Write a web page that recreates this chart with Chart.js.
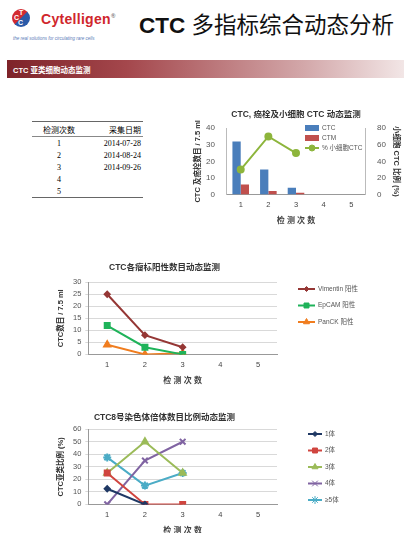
<!DOCTYPE html>
<html>
<head>
<meta charset="utf-8">
<script src="https://cdn.jsdelivr.net/npm/chart.js@4/dist/chart.umd.min.js"></script>
<style>
  body { margin: 0; width: 404px; height: 533px; background: #fff; position: relative; overflow: hidden;
         font-family: "Liberation Sans", "Noto Sans CJK SC", sans-serif; }
  .abs { position: absolute; }
  #logoCircle { left: 12px; top: 9px; width: 18px; height: 18px; border-radius: 50%;
                background: linear-gradient(135deg, #d32a30 0 48%, #2b5aa8 52% 100%); }
  #logoCircle span { position: absolute; color: #fff; font-weight: bold; font-size: 7px; }
  #brand { left: 41px; top: 11px; font-size: 14px; font-weight: bold; color: #d0262c; letter-spacing: 0.3px; }
  #brand sup { font-size: 6px; color: #777; }
  #tagline { left: 13px; top: 36px; font-size: 4.5px; font-style: italic; color: #5a7ab8; }
  #mainTitle { left: 139px; top: 7px; font-size: 22.5px; color: #111; white-space: nowrap; }
  #banner { left: 7px; top: 60px; width: 397px; height: 18px;
            background: linear-gradient(90deg, #7e2329 0%, #a4474c 30%, #d3a8aa 75%, #f2e6e6 100%); }
  #banner span { position: absolute; left: 6px; top: 4px; font-size: 7.5px; font-weight: bold; color: #fff; }
  #sampleTable { left: 32px; top: 121px; width: 111px; border-collapse: collapse;
                 font-family: "Liberation Serif", "Noto Sans CJK SC", serif; font-size: 8px; color: #000; }
  #sampleTable th { font-weight: normal; border-top: 1.5px solid #666; border-bottom: 1px solid #888; padding: 1.5px 2px; }
  #sampleTable td { padding: 1.5px 2px; height: 8px; }
  #sampleTable tr:last-child td { border-bottom: 1.5px solid #666; }
  .c1 { text-align: center; width: 50px; }
  .c2 { text-align: right; }
</style>
</head>
<body>
<div id="logoCircle" class="abs"><span style="left:7px;top:0px">T</span><span style="left:2px;top:5px">C</span><span style="left:6px;top:10px">C</span></div>
<div id="brand" class="abs">Cytelligen<sup>®</sup></div>
<div id="tagline" class="abs">the real solutions for circulating rare cells</div>
<div id="mainTitle" class="abs"><b>CTC</b> 多指标综合动态分析</div>
<div id="banner" class="abs"><span>CTC 亚类细胞动态监测</span></div>
<table id="sampleTable" class="abs"></table>

<div class="abs" style="left:186px;top:110px;width:218px;height:116px"><canvas id="c1"></canvas></div>
<div class="abs" style="left:40px;top:260px;width:360px;height:126px"><canvas id="c2"></canvas></div>
<div class="abs" style="left:40px;top:411px;width:360px;height:125px"><canvas id="c3"></canvas></div>

<script>
// data
const visits = ['1', '2', '3', '4', '5'];
const sampleDates = ['2014-07-28', '2014-08-24', '2014-09-26', '', ''];

const ctcCounts = [32, 15, 4, 0, 0];
const ctmCounts = [6, 2, 1, 0, 0];
const smallCellPct = [30, 70, 50, null, null];

const vimentinPos = [25, 8, 3, null, null];
const epcamPos = [12, 3, 0, null, null];
const panckPos = [4, 0, 0.5, null, null];

const ploidy1 = [12.5, 0, null, null, null];
const ploidy2 = [25, 0, 0, null, null];
const ploidy3 = [25, 50, 25, null, null];
const ploidy4 = [0, 35, 50, null, null];
const ploidy5 = [37.5, 15, 25, null, null];

// table
const table = document.getElementById('sampleTable');
let html = '<tr><th class="c1">检测次数</th><th class="c2">采集日期</th></tr>';
visits.forEach((v, i) => {
    html += '<tr><td class="c1">' + v + '</td><td class="c2">' + sampleDates[i] + '</td></tr>';
});
table.innerHTML = html;

Chart.defaults.font.family = "'Liberation Sans', 'Noto Sans CJK SC', sans-serif";
Chart.defaults.color = '#555';
Chart.defaults.animation = false;

// Excel style legend drawn at a fixed spot
const sideLegend = {
    id: 'sideLegend',
    afterDraw(chart, args, opts) {
        if (!opts || opts.x === undefined) return;
        const ctx = chart.ctx;
        ctx.save();
        ctx.font = opts.font;
        chart.data.datasets.forEach((ds, i) => {
            const x = opts.x, y = opts.y + i * opts.gap, len = opts.len;
            const isBar = (ds.type || chart.config.type) === 'bar';
            if (isBar) {
                ctx.fillStyle = ds.backgroundColor;
                ctx.fillRect(x, y - 3, len, 6);
            } else {
                ctx.strokeStyle = ds.borderColor;
                ctx.lineWidth = ds.borderWidth;
                ctx.beginPath();
                ctx.moveTo(x, y);
                ctx.lineTo(x + len, y);
                ctx.stroke();
                ctx.fillStyle = ds.pointBackgroundColor || ds.borderColor;
                ctx.lineWidth = 1;
                Chart.helpers.drawPoint(ctx, { pointStyle: ds.pointStyle, radius: ds.pointRadius, rotation: 0, borderWidth: 1 }, x + len / 2, y);
            }
            ctx.fillStyle = '#555';
            ctx.textBaseline = 'middle';
            ctx.fillText(ds.label, x + len + 3, y);
        });
        ctx.restore();
    }
};
Chart.register(sideLegend);

const tickFont = { size: 7.5 };
const titleFont = { size: 8.5, weight: 'bold' };
const axisTitleFont = { size: 7.5, weight: 'bold' };

function xScale(pad) {
    return {
        offset: true,
        grid: { display: false, drawTicks: false },
        border: { color: '#999' },
        ticks: { font: tickFont, color: '#444', padding: pad },
        title: { display: true, text: '检 测 次 数', font: { size: 8, weight: 'bold' }, color: '#444', padding: { top: 1, bottom: 0 } }
    };
}

// chart 1: CTC, CTM bars and small cell %
new Chart(document.getElementById('c1'), {
    type: 'bar',
    data: {
        labels: visits,
        datasets: [
            { label: 'CTC', data: ctcCounts, backgroundColor: '#4a7ebb', yAxisID: 'y', order: 2 },
            { label: 'CTM', data: ctmCounts, backgroundColor: '#c0504d', yAxisID: 'y', order: 2 },
            { type: 'line', label: '% 小细胞CTC', data: smallCellPct, borderColor: '#8db53c', backgroundColor: '#8db53c',
              pointBackgroundColor: '#8db53c', borderWidth: 2, pointRadius: 3, pointStyle: 'circle', yAxisID: 'y1', order: 1 }
        ]
    },
    options: {
        responsive: true,
        maintainAspectRatio: false,
        layout: { padding: { left: 2, right: 0, top: 0, bottom: 0 } },
        datasets: { bar: { categoryPercentage: 0.6, barPercentage: 1 } },
        plugins: {
            legend: { display: false },
            tooltip: { enabled: false },
            title: { display: true, text: 'CTC, 癌栓及小细胞 CTC 动态监测', font: titleFont, color: '#333', padding: { top: 0, bottom: 8 } },
            sideLegend: { x: 119, y: 18, gap: 10, len: 14, font: '6.5px "Liberation Sans", "Noto Sans CJK SC"' }
        },
        scales: {
            x: xScale(6),
            y: {
                min: 0, max: 40,
                grid: { display: false },
                border: { color: '#bbb' },
                ticks: { stepSize: 10, font: { size: 8 }, color: '#555', padding: 4 },
                title: { display: true, text: 'CTC 及癌栓数目 / 7.5 ml', font: axisTitleFont, color: '#333', padding: { top: 5, bottom: 0 } }
            },
            y1: {
                position: 'right', min: 0, max: 80,
                grid: { display: false },
                border: { color: '#bbb' },
                ticks: { stepSize: 20, font: { size: 8 }, color: '#555', padding: 4 },
                title: { display: true, text: '小细胞 CTC 比例 (%)', font: axisTitleFont, color: '#333', padding: { top: 3, bottom: 2 } }
            }
        }
    }
});

function lineSet(label, data, color, style, radius) {
    return { label: label, data: data, borderColor: color, backgroundColor: color, pointBackgroundColor: color,
             borderWidth: 2, pointStyle: style, pointRadius: radius, spanGaps: false };
}

function lineOptions(title, yTitle, yMax, step, legend, titlePad) {
    return {
        responsive: true,
        maintainAspectRatio: false,
        layout: { padding: { left: 12, right: 123, top: 0, bottom: 0 } },
        plugins: {
            legend: { display: false },
            tooltip: { enabled: false },
            title: { display: true, text: title, font: titleFont, color: '#333', padding: titlePad },
            sideLegend: legend
        },
        scales: {
            x: xScale(6),
            y: {
                min: 0, max: yMax,
                grid: { color: '#d9d9d9', drawTicks: true, tickLength: 3 },
                border: { color: '#999' },
                ticks: { stepSize: step, font: tickFont, color: '#555', padding: 4 },
                title: { display: true, text: yTitle, font: axisTitleFont, color: '#333', padding: 4 }
            }
        }
    };
}

// chart 2: marker positive counts
new Chart(document.getElementById('c2'), {
    type: 'line',
    data: {
        labels: visits,
        datasets: [
            lineSet('Vimentin 阳性', vimentinPos, '#953735', 'rectRot', 2.5),
            lineSet('EpCAM 阳性', epcamPos, '#1fb35a', 'rect', 3.5),
            lineSet('PanCK 阳性', panckPos, '#f07d1f', 'triangle', 3.5)
        ]
    },
    options: lineOptions('CTC各瘤标阳性数目动态监测', 'CTC数目 / 7.5 ml', 30, 5,
        { x: 258, y: 29, gap: 16.5, len: 17, font: '6.5px "Liberation Sans", "Noto Sans CJK SC"' },
        { top: 3, bottom: 9 })
});

// chart 3: chromosome 8 ploidy ratio
new Chart(document.getElementById('c3'), {
    type: 'line',
    data: {
        labels: visits,
        datasets: [
            lineSet('1体', ploidy1, '#1f3864', 'rectRot', 2.5),
            lineSet('2体', ploidy2, '#d0453f', 'rect', 3.5),
            lineSet('3体', ploidy3, '#9bbb59', 'triangle', 3.5),
            lineSet('4体', ploidy4, '#8064a2', 'crossRot', 4),
            lineSet('≥5体', ploidy5, '#4bacc6', 'star', 4)
        ]
    },
    options: lineOptions('CTC8号染色体倍体数目比例动态监测', 'CTC亚类比例 (%)', 60, 10,
        { x: 268, y: 23, gap: 16.5, len: 14, font: '6.5px "Liberation Sans", "Noto Sans CJK SC"' },
        { top: 2, bottom: 6 })
});
</script>
</body>
</html>
